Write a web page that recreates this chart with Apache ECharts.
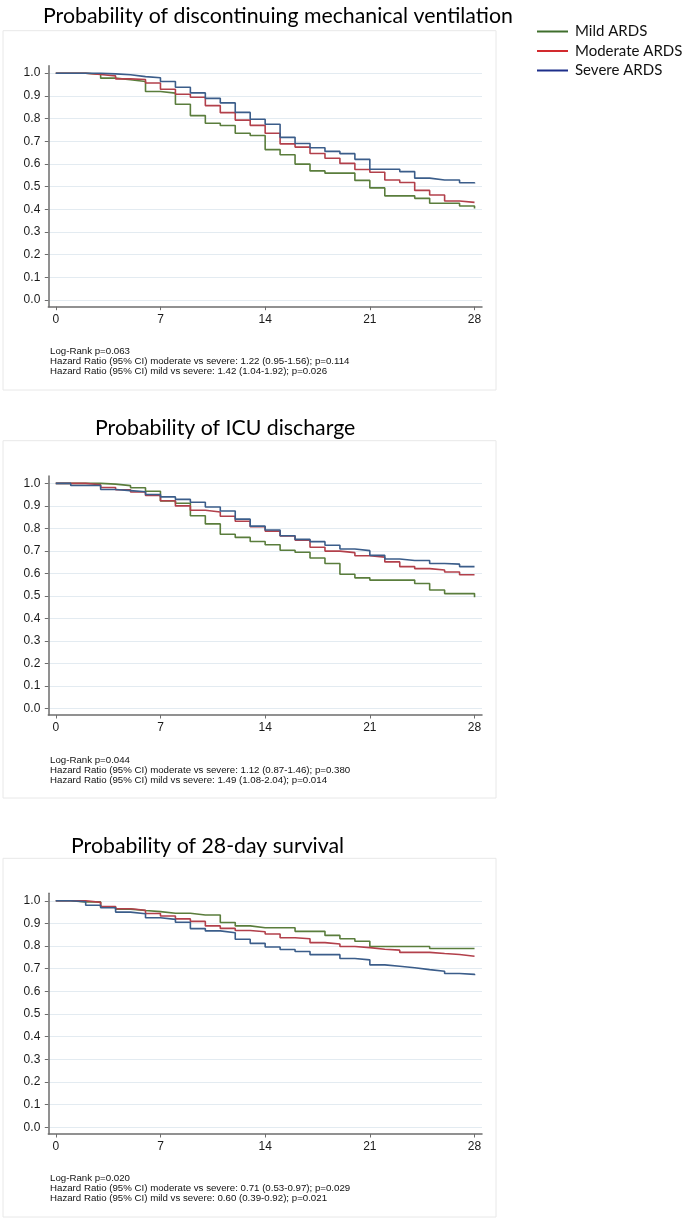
<!DOCTYPE html>
<html>
<head>
<meta charset="utf-8">
<script src="https://cdn.jsdelivr.net/npm/echarts@6/dist/echarts.min.js"></script>
<style>
html,body{margin:0;padding:0;background:#fff;}
#c{width:695px;height:1220px;}
</style>
</head>
<body>
<div id="c"></div>
<script>
// ---- data ----
const days = [0,1,2,3,4,5,6,7,8,9,10,11,12,13,14,15,16,17,18,19,20,21,22,23,24,25,26,27,28];
const xTicks = [0,7,14,21,28];
const yTicks = [0,0.1,0.2,0.3,0.4,0.5,0.6,0.7,0.8,0.9,1.0];
const groups = ['Mild ARDS','Moderate ARDS','Severe ARDS'];
const panelTitles = ['Probability of discontinuing mechanical ventilation','Probability of ICU discharge','Probability of 28-day survival'];
const panelNotes = [
  ['Log-Rank p=0.063','Hazard Ratio (95% CI) moderate vs severe: 1.22 (0.95-1.56); p=0.114','Hazard Ratio (95% CI) mild vs severe: 1.42 (1.04-1.92); p=0.026'],
  ['Log-Rank p=0.044','Hazard Ratio (95% CI) moderate vs severe: 1.12 (0.87-1.46); p=0.380','Hazard Ratio (95% CI) mild vs severe: 1.49 (1.08-2.04); p=0.014'],
  ['Log-Rank p=0.020','Hazard Ratio (95% CI) moderate vs severe: 0.71 (0.53-0.97); p=0.029','Hazard Ratio (95% CI) mild vs severe: 0.60 (0.39-0.92); p=0.021']
];
// Panel 1: discontinuing mechanical ventilation
const mvMild     = [1.0,1.0,0.995,0.978,0.971,0.963,0.919,0.912,0.863,0.813,0.779,0.769,0.735,0.725,0.663,0.640,0.599,0.569,0.559,0.559,0.527,0.494,0.459,0.459,0.448,0.426,0.426,0.414,0.403];
const mvModerate = [1.0,1.0,0.994,0.988,0.975,0.972,0.957,0.929,0.907,0.894,0.857,0.826,0.793,0.770,0.735,0.688,0.674,0.646,0.625,0.602,0.575,0.563,0.529,0.518,0.483,0.463,0.436,0.430,0.427];
const mvSevere   = [1.0,1.0,1.0,0.997,0.993,0.985,0.980,0.963,0.938,0.913,0.889,0.869,0.827,0.797,0.775,0.717,0.690,0.671,0.655,0.645,0.620,0.576,0.576,0.566,0.537,0.529,0.529,0.517,0.513];
// Panel 2: ICU discharge
const icuMild     = [1.0,1.0,1.0,0.997,0.990,0.981,0.965,0.922,0.912,0.856,0.820,0.774,0.760,0.742,0.727,0.703,0.694,0.668,0.644,0.596,0.580,0.570,0.570,0.570,0.555,0.526,0.510,0.510,0.494];
const icuModerate = [1.0,1.0,0.994,0.982,0.972,0.962,0.946,0.923,0.900,0.881,0.873,0.854,0.832,0.807,0.788,0.766,0.748,0.716,0.699,0.692,0.678,0.672,0.651,0.630,0.621,0.615,0.606,0.594,0.592];
const icuSevere   = [1.0,0.991,0.991,0.973,0.968,0.963,0.951,0.940,0.929,0.916,0.895,0.877,0.841,0.810,0.793,0.767,0.751,0.741,0.725,0.708,0.701,0.680,0.664,0.657,0.657,0.644,0.641,0.630,0.627];
// Panel 3: 28-day survival
const survMild     = [1.0,0.995,0.995,0.972,0.963,0.957,0.952,0.945,0.945,0.937,0.937,0.904,0.889,0.881,0.881,0.881,0.865,0.865,0.847,0.832,0.821,0.798,0.798,0.798,0.798,0.789,0.789,0.789,0.789];
const survModerate = [1.0,1.0,0.993,0.975,0.965,0.958,0.944,0.933,0.920,0.909,0.889,0.878,0.869,0.863,0.853,0.837,0.832,0.815,0.809,0.798,0.793,0.786,0.782,0.772,0.772,0.767,0.763,0.755,0.755];
const survSevere   = [1.0,0.996,0.980,0.969,0.950,0.943,0.925,0.918,0.905,0.877,0.867,0.859,0.830,0.812,0.796,0.785,0.776,0.762,0.762,0.745,0.739,0.717,0.711,0.704,0.696,0.689,0.679,0.675,0.671];

const panelData = [
  [mvMild, mvModerate, mvSevere],
  [icuMild, icuModerate, icuSevere],
  [survMild, survModerate, survSevere]
];

// ---- styling ----
const lineColors = ['#5a7d3c','#b2404b','#3b5d8a'];
const legendColors = ['#3f6e2c','#d22a2e','#1d2e8a'];
const gridTops = [65.7, 476, 893.3];
const gridHeights = [241, 239, 240.7];
const titleTops = [6, 418, 836];
const titleLefts = [43, 95, 71];
const noteTops = [346.5, 755.5, 1173.7];
const boxes = [[3, 30.7, 493, 359.3],[3, 440.7, 493, 357.3],[3, 858.3, 493, 358.7]];

const grids = [], xAxes = [], yAxes = [], series = [], titles = [], graphics = [];
for (let p = 0; p < 3; p++) {
  grids.push({left: 48.3, width: 433.7, top: gridTops[p], height: gridHeights[p], containLabel: false});
  xAxes.push({
    type: 'value', gridIndex: p, min: -0.5, max: 28.5,
    axisLine: {show: true, onZero: false, lineStyle: {color: '#6d6d6d', width: 1.5}},
    axisTick: {show: true, length: 3.5, customValues: xTicks, lineStyle: {color: '#6d6d6d', width: 1}},
    axisLabel: {customValues: xTicks, margin: 7, color: '#1a1a1a', fontSize: 12, fontFamily: 'Liberation Sans'},
    splitLine: {show: false}
  });
  yAxes.push({
    type: 'value', gridIndex: p, min: -0.03, max: 1.033,
    axisLine: {show: true, onZero: false, lineStyle: {color: '#6d6d6d', width: 1.5}},
    axisTick: {show: true, length: 3.5, customValues: yTicks, lineStyle: {color: '#6d6d6d', width: 1}},
    axisLabel: {customValues: yTicks, margin: 8, color: '#1a1a1a', fontSize: 12, fontFamily: 'Liberation Sans',
      formatter: v => v.toFixed(1)},
    splitLine: {show: true, lineStyle: {color: '#e3ebf1', width: 1}}
  });
  for (let s = 0; s < 3; s++) {
    const vals = panelData[p][s];
    series.push({
      type: 'line', name: groups[s], xAxisIndex: p, yAxisIndex: p,
      step: 'end', symbol: 'none', silent: true, animation: false,
      lineStyle: {color: lineColors[s], width: 1.6},
      itemStyle: {color: lineColors[s]},
      data: days.map((d, i) => [d, vals[i]])
    });
  }
  titles.push({
    text: panelTitles[p], left: titleLefts[p], top: titleTops[p], padding: 0,
    textStyle: {fontFamily: 'Lato', fontWeight: 'normal', fontSize: 21.3, color: '#000'}
  });
  titles.push({
    text: panelNotes[p].join('\n'), left: 50, top: noteTops[p], padding: 0,
    textStyle: {fontFamily: 'Liberation Sans', fontWeight: 'normal', fontSize: 9.7, lineHeight: 10, color: '#111'}
  });
  const b = boxes[p];
  graphics.push({type: 'rect', shape: {x: b[0], y: b[1], width: b[2], height: b[3]}, z: -10,
    style: {fill: 'none', stroke: '#e8e8e8', lineWidth: 1}});
}

const chart = echarts.init(document.getElementById('c'), null, {renderer: 'canvas'});
chart.setOption({
  animation: false,
  backgroundColor: '#fff',
  title: titles,
  graphic: graphics,
  legend: {
    orient: 'vertical', left: 532, top: 19,
    icon: 'rect', itemWidth: 31, itemHeight: 2, itemGap: 4.5,
    selectedMode: false,
    textStyle: {fontFamily: 'Lato', fontSize: 15, color: '#111', lineHeight: 15, padding: [0,0,0,2]},
    data: groups.map((g, i) => ({name: g, itemStyle: {color: legendColors[i]}}))
  },
  grid: grids,
  xAxis: xAxes,
  yAxis: yAxes,
  series: series
});
</script>
</body>
</html>
